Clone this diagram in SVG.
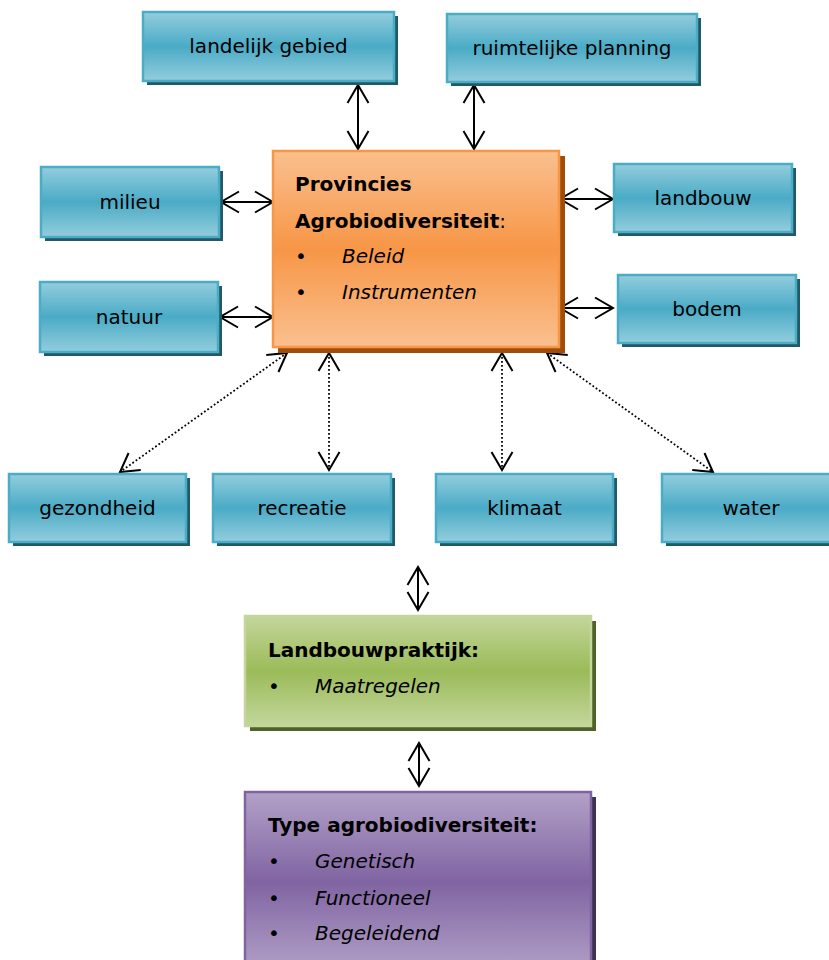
<svg xmlns="http://www.w3.org/2000/svg" width="829" height="960" viewBox="0 0 829 960">
<style>
.t{font-family:"DejaVu Sans","Verdana",sans-serif;font-size:20px;fill:#000}
.c{text-anchor:middle}
.b{font-weight:bold}
.i{font-style:italic}
.blue{fill:url(#gb);stroke:#4bacc6;stroke-width:2.5}
.bsh{fill:#215968}
.ln{stroke:#000;stroke-width:2;fill:none}
.dt{stroke:#000;stroke-width:1.8;fill:none;stroke-dasharray:1.8 2.2}
</style>
<defs>
<linearGradient id="gb" x1="0" y1="0" x2="0" y2="1">
<stop offset="0" stop-color="#93cddd"/><stop offset="0.5" stop-color="#4aabc6"/><stop offset="1" stop-color="#93cddd"/>
</linearGradient>
<linearGradient id="go" x1="0" y1="0" x2="0" y2="1">
<stop offset="0" stop-color="#fac08f"/><stop offset="0.5" stop-color="#f79646"/><stop offset="1" stop-color="#fac08f"/>
</linearGradient>
<linearGradient id="gg" x1="0" y1="0" x2="0" y2="1">
<stop offset="0" stop-color="#c3d69b"/><stop offset="0.5" stop-color="#9bbb59"/><stop offset="1" stop-color="#c3d69b"/>
</linearGradient>
<linearGradient id="gp" x1="0" y1="0" x2="0" y2="1">
<stop offset="0" stop-color="#b2a1c7"/><stop offset="0.5" stop-color="#8064a2"/><stop offset="1" stop-color="#b2a1c7"/>
</linearGradient>
<marker id="ah" viewBox="0 0 22 24" refX="19" refY="12" markerWidth="22" markerHeight="24" orient="auto-start-reverse" markerUnits="userSpaceOnUse">
<path d="M1,1.5 L19,12 L1,22.5" fill="none" stroke="#000" stroke-width="2"/>
</marker>
</defs>

<g id="connectors">
<line class="ln" x1="358" y1="85" x2="358" y2="149" marker-start="url(#ah)" marker-end="url(#ah)"/>
<line class="ln" x1="474" y1="85" x2="474" y2="149" marker-start="url(#ah)" marker-end="url(#ah)"/>
<line class="ln" x1="221" y1="202" x2="273" y2="202" marker-start="url(#ah)" marker-end="url(#ah)"/>
<line class="ln" x1="220" y1="317" x2="273" y2="317" marker-start="url(#ah)" marker-end="url(#ah)"/>
<line class="ln" x1="560" y1="199" x2="613" y2="199" marker-start="url(#ah)" marker-end="url(#ah)"/>
<line class="ln" x1="560" y1="308" x2="613" y2="308" marker-start="url(#ah)" marker-end="url(#ah)"/>
<line class="dt" x1="287" y1="353" x2="120" y2="472" marker-start="url(#ah)" marker-end="url(#ah)"/>
<line class="dt" x1="329" y1="353" x2="329" y2="470" marker-start="url(#ah)" marker-end="url(#ah)"/>
<line class="dt" x1="502" y1="353" x2="502" y2="470" marker-start="url(#ah)" marker-end="url(#ah)"/>
<line class="dt" x1="547" y1="353" x2="713" y2="472" marker-start="url(#ah)" marker-end="url(#ah)"/>
<line class="ln" x1="418" y1="567" x2="418" y2="610" marker-start="url(#ah)" marker-end="url(#ah)"/>
<line class="ln" x1="419" y1="743" x2="419" y2="786" marker-start="url(#ah)" marker-end="url(#ah)"/>
</g>

<g id="landelijk-gebied">
<rect class="bsh" x="147" y="16" width="251" height="69"/>
<rect class="blue" x="143" y="12" width="251" height="69"/>
<text class="t c" x="268.5" y="53">landelijk gebied</text>
</g>
<g id="ruimtelijke-planning">
<rect class="bsh" x="451" y="18" width="250" height="68"/>
<rect class="blue" x="447" y="14" width="250" height="68"/>
<text class="t c" x="572" y="55">ruimtelijke planning</text>
</g>
<g id="milieu">
<rect class="bsh" x="45" y="171" width="178" height="70"/>
<rect class="blue" x="41" y="167" width="178" height="70"/>
<text class="t c" x="130" y="209">milieu</text>
</g>
<g id="natuur">
<rect class="bsh" x="44" y="286" width="178" height="70"/>
<rect class="blue" x="40" y="282" width="178" height="70"/>
<text class="t c" x="129" y="324">natuur</text>
</g>
<g id="landbouw">
<rect class="bsh" x="618" y="168" width="178" height="68"/>
<rect class="blue" x="614" y="164" width="178" height="68"/>
<text class="t c" x="703" y="205">landbouw</text>
</g>
<g id="bodem">
<rect class="bsh" x="622" y="279" width="178" height="68"/>
<rect class="blue" x="618" y="275" width="178" height="68"/>
<text class="t c" x="707" y="316">bodem</text>
</g>

<g id="provincies">
<rect x="278" y="156" width="287" height="197" fill="#a04c0a"/>
<rect x="273" y="151" width="286" height="196" fill="url(#go)" stroke="#f79646" stroke-width="2.5"/>
<text class="t b" x="295" y="191">Provincies</text>
<text class="t" x="295" y="228"><tspan class="b">Agrobiodiversiteit</tspan>:</text>
<text class="t" x="295" y="263">•</text>
<text class="t i" x="342" y="263">Beleid</text>
<text class="t" x="295" y="299">•</text>
<text class="t i" x="342" y="299">Instrumenten</text>
</g>

<g id="gezondheid">
<rect class="bsh" x="13" y="478" width="177" height="68"/>
<rect class="blue" x="9" y="474" width="177" height="68"/>
<text class="t c" x="97.5" y="515">gezondheid</text>
</g>
<g id="recreatie">
<rect class="bsh" x="217" y="478" width="178" height="68"/>
<rect class="blue" x="213" y="474" width="178" height="68"/>
<text class="t c" x="302" y="515">recreatie</text>
</g>
<g id="klimaat">
<rect class="bsh" x="440" y="478" width="177" height="68"/>
<rect class="blue" x="436" y="474" width="177" height="68"/>
<text class="t c" x="524.5" y="515">klimaat</text>
</g>
<g id="water">
<rect class="bsh" x="666" y="478" width="178" height="68"/>
<rect class="blue" x="662" y="474" width="178" height="68"/>
<text class="t c" x="751" y="515">water</text>
</g>

<g id="landbouwpraktijk">
<rect x="250" y="621" width="346" height="110" fill="#4f6228"/>
<rect x="245" y="616" width="346" height="110" fill="url(#gg)" stroke="#c3d69b" stroke-width="2.5"/>
<text class="t b" x="268" y="657">Landbouwpraktijk:</text>
<text class="t" x="268" y="693">•</text>
<text class="t i" x="315" y="693">Maatregelen</text>
</g>

<g id="type-agrobiodiversiteit">
<rect x="250" y="797" width="346" height="180" fill="#3f3151"/>
<rect x="245" y="792" width="346" height="180" fill="url(#gp)" stroke="#8064a2" stroke-width="2.5"/>
<text class="t b" x="268" y="832">Type agrobiodiversiteit:</text>
<text class="t" x="268" y="868">•</text>
<text class="t i" x="315" y="868">Genetisch</text>
<text class="t" x="268" y="905">•</text>
<text class="t i" x="315" y="905">Functioneel</text>
<text class="t" x="268" y="940">•</text>
<text class="t i" x="315" y="940">Begeleidend</text>
</g>
</svg>
